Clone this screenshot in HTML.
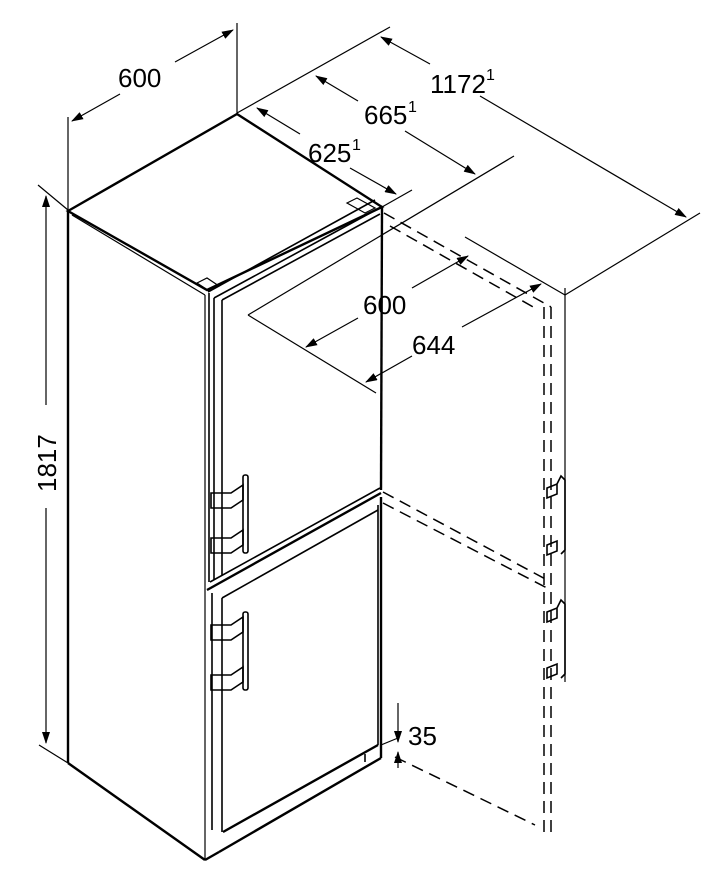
<!DOCTYPE html>
<html><head><meta charset="utf-8"><style>
html,body{margin:0;padding:0;background:#fff;}
svg{display:block;}
text{font-family:"Liberation Sans",sans-serif;font-size:26px;fill:#000;}
.t{stroke:#000;stroke-width:1.2;fill:none;}
.k{stroke:#000;stroke-width:2.4;fill:none;}
.m{stroke:#000;stroke-width:1.6;fill:none;}
.d{stroke:#000;stroke-width:1.5;fill:none;stroke-dasharray:12 7;}
</style></head><body>
<svg width="711" height="871" viewBox="0 0 711 871" xmlns="http://www.w3.org/2000/svg">
<defs><marker id="a" markerWidth="12" markerHeight="8" refX="11" refY="4" orient="auto" markerUnits="userSpaceOnUse"><path d="M0,0 L12,4 L0,8z" fill="#000"/></marker></defs>

<line class="t" x1="237" y1="23" x2="237" y2="114"/>
<line class="t" x1="68" y1="117" x2="68" y2="210"/>
<line class="t" x1="120" y1="94" x2="72" y2="121" marker-end="url(#a)"/>
<line class="t" x1="175" y1="62" x2="233" y2="30" marker-end="url(#a)"/>
<text x="118" y="87">600</text>

<line class="t" x1="237" y1="113" x2="390" y2="27"/>
<line class="t" x1="430" y1="64" x2="381" y2="37" marker-end="url(#a)"/>
<line class="t" x1="480" y1="96" x2="686" y2="217" marker-end="url(#a)"/>
<text x="430" y="93">1172</text><text x="486" y="80" style="font-size:16px">1</text>
<line class="t" x1="565" y1="295" x2="700" y2="213"/>
<line class="t" x1="565" y1="288" x2="565" y2="682"/>
<line class="t" x1="358" y1="101" x2="316" y2="76" marker-end="url(#a)"/>
<line class="t" x1="405" y1="131" x2="475" y2="174" marker-end="url(#a)"/>
<text x="364" y="124">665</text><text x="408" y="112" style="font-size:16px">1</text>
<line class="t" x1="248" y1="315" x2="514" y2="156"/>
<line class="t" x1="300" y1="134" x2="257" y2="108" marker-end="url(#a)"/>
<line class="t" x1="350" y1="168" x2="396" y2="194" marker-end="url(#a)"/>
<text x="308" y="162">625</text><text x="352" y="150" style="font-size:16px">1</text>
<line class="t" x1="382" y1="207" x2="412" y2="190"/>

<line class="t" x1="248" y1="315" x2="376" y2="393"/>
<line class="t" x1="358" y1="318" x2="306" y2="347" marker-end="url(#a)"/>
<line class="t" x1="412" y1="288" x2="468" y2="256" marker-end="url(#a)"/>
<text x="363" y="314">600</text>
<line class="t" x1="412" y1="356" x2="366" y2="382" marker-end="url(#a)"/>
<line class="t" x1="462" y1="327" x2="541" y2="284" marker-end="url(#a)"/>
<text x="412" y="354">644</text>
<line class="t" x1="465" y1="237" x2="565" y2="295"/>

<line class="t" x1="38" y1="185" x2="68" y2="210"/>
<line class="t" x1="46" y1="405" x2="46" y2="196" marker-end="url(#a)"/>
<line class="t" x1="46" y1="508" x2="46" y2="743" marker-end="url(#a)"/>
<text transform="translate(56,492) rotate(-90)">1817</text>
<line class="t" x1="39" y1="745" x2="68" y2="763"/>

<polygon class="k" points="68,211 237,114 382,207 207,290" />
<line class="t" x1="72" y1="215" x2="205" y2="295"/>
<line class="k" x1="68" y1="211" x2="68" y2="763"/>
<line class="k" x1="68" y1="763" x2="205" y2="860"/>
<line class="k" x1="205" y1="860" x2="219" y2="852"/>
<line class="k" x1="219" y1="852" x2="381" y2="758"/>
<line class="k" x1="382" y1="207" x2="381" y2="490"/>
<line class="k" x1="381" y1="497" x2="381" y2="758"/>
<line class="t" x1="205" y1="295" x2="205" y2="860"/>
<path class="t" d="M347,203 l10,-5 l18,10 l-10,5z"/>
<path class="t" d="M197,283 l10,-5 l12,8 l-10,5z"/>
<line class="m" x1="208" y1="292" x2="375" y2="200"/>
<line class="m" x1="214" y1="298" x2="372" y2="212"/>
<line class="m" x1="222" y1="300" x2="380" y2="214"/>
<line class="m" x1="209" y1="293" x2="209" y2="582"/>
<line class="m" x1="214" y1="298" x2="214" y2="580"/>
<line class="m" x1="222" y1="300" x2="222" y2="575"/>
<line class="m" x1="210" y1="582" x2="380" y2="488"/>
<line class="k" x1="207" y1="590" x2="381" y2="493"/>
<line class="m" x1="222" y1="598" x2="378" y2="510"/>
<line class="m" x1="212" y1="593" x2="212" y2="830"/>
<line class="m" x1="222" y1="598" x2="222" y2="832"/>
<line class="m" x1="378" y1="505" x2="378" y2="745"/>
<line class="k" x1="223" y1="832" x2="378" y2="745"/>
<path class="m" d="M365,762 l0,-8"/>
<rect class="m" x="243" y="475" width="5" height="78" rx="2"/>
<path class="m" d="M211,493 l20,0 l12,-8 l0,15 l-12,8 l-20,0z M211,538 l20,0 l12,-8 l0,15 l-12,8 l-20,0z"/>
<rect class="m" x="243" y="612" width="5" height="78" rx="2"/>
<path class="m" d="M211,625 l20,0 l12,-8 l0,15 l-12,8 l-20,0z M211,675 l20,0 l12,-8 l0,15 l-12,8 l-20,0z"/>

<line class="d" x1="384" y1="213" x2="551" y2="307"/>
<line class="d" x1="390" y1="226" x2="535" y2="308"/>
<line class="d" x1="551" y1="307" x2="551" y2="832"/>
<line class="d" x1="544" y1="307" x2="544" y2="832"/>
<line class="d" x1="383" y1="492" x2="551" y2="582"/>
<line class="d" x1="383" y1="503" x2="547" y2="588"/>
<line class="d" x1="395" y1="757" x2="535" y2="825"/>
<path class="m" d="M547,488 l10,-4 l0,10 l-10,4z M547,545 l10,-4 l0,10 l-10,4z M557,484 l4,-8 l4,4 l0,70 l-4,4"/>
<path class="m" d="M547,612 l10,-4 l0,10 l-10,4z M547,668 l10,-4 l0,10 l-10,4z M557,608 l4,-8 l4,4 l0,70 l-4,4"/>

<line class="t" x1="398" y1="703" x2="398" y2="742" marker-end="url(#a)"/>
<line class="t" x1="398" y1="768" x2="398" y2="752" marker-end="url(#a)"/>
<line class="t" x1="381" y1="745" x2="398" y2="738"/>
<text x="408" y="745">35</text>
</svg>
</body></html>
